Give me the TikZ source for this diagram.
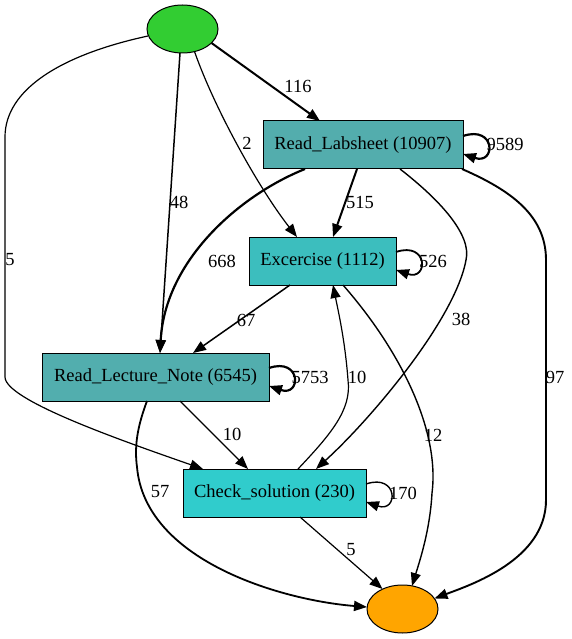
\documentclass[tikz,border=0pt]{standalone}
\usepackage{fontspec}
\setmainfont{Liberation Serif}
\usetikzlibrary{arrows.meta,calc,shapes.geometric}
\definecolor{cstart}{HTML}{32CD32}
\definecolor{cend}{HTML}{FFA500}
\definecolor{cls}{HTML}{53ADAD}
\definecolor{cln}{HTML}{52AEAE}
\definecolor{cex}{HTML}{3CBEBE}
\definecolor{ccs}{HTML}{30CCCC}
\tikzset{
  oval/.style={ellipse,draw=black,line width=1pt,minimum width=71pt,minimum height=48pt,inner sep=0pt},
  actbox/.style={rectangle,draw=black,line width=1pt,minimum height=48pt,inner sep=0pt,font=\fontsize{18.5}{20}\selectfont},
  lbl/.style={inner sep=0pt,font=\fontsize{18.5}{20}\selectfont},
  edge/.style={draw=black,-{Triangle[length=13pt,width=10pt]}},
}
\begin{document}
\begin{tikzpicture}[x=1pt,y=-1pt]
\useasboundingbox (0,0) rectangle (571,639);
% nodes
\node[oval,fill=cstart] (st) at (182.5,29) {};
\node[actbox,fill=cls,minimum width=200pt] (ls) at (363,145) {Read\_Labsheet (10907)};
\node[actbox,fill=cex,minimum width=147pt] (ex) at (322.5,261) {Excercise (1112)};
\node[actbox,fill=cln,minimum width=227pt] (ln) at (155.5,377) {Read\_Lecture\_Note (6545)};
\node[actbox,fill=ccs,minimum width=183pt] (cs) at (274.5,493) {Check\_solution (230)};
\node[oval,fill=cend] (en) at (402.5,609) {};
% edges
\draw[edge,line width=2pt] ($(st)+(29,14)$) -- ($(ls)+(-43,-24)$);
\draw[edge,line width=1.2pt] ($(st)+(12,22.5)$) .. controls (215,110) and (260,190) .. ($(ex)+(-25.5,-24)$);
\draw[edge,line width=1.5pt] ($(st)+(-2.5,24)$) -- ($(ln)+(4.5,-24)$);
\draw[edge,line width=1.2pt] ($(st)+(-34.5,7)$) .. controls (60,55) and (5,90) .. (5,137) -- (5,377) .. controls (5,400) and (120,440) .. ($(cs)+(-71.5,-24)$);
\draw[edge,line width=2.2pt] ($(ls)+(100,-9)$) .. controls ($(ls)+(133,-20)$) and ($(ls)+(133,20)$) .. ($(ls)+(100,9)$);
\draw[edge,line width=2pt] ($(ls)+(-6,24)$) -- ($(ex)+(10.5,-24)$);
\draw[edge,line width=2.2pt] ($(ls)+(-58,24)$) .. controls (240,195) and (165,260) .. ($(ln)+(4.5,-24)$);
\draw[edge,line width=1.4pt] ($(ls)+(37,24)$) .. controls (440,200) and (472,235) .. (466,260) .. controls (455,320) and (370,420) .. ($(cs)+(41.5,-24)$);
\draw[edge,line width=1.9pt] ($(ls)+(99,24)$) .. controls (510,190) and (546,215) .. (546,260) -- (546,500) .. controls (546,560) and (470,585) .. ($(en)+(32,-10.5)$);
\draw[edge,line width=1.8pt] ($(ex)+(73.5,-9)$) .. controls ($(ex)+(106,-20)$) and ($(ex)+(106,20)$) .. ($(ex)+(73.5,9)$);
\draw[edge,line width=1.5pt] ($(ex)+(-32.5,24)$) -- ($(ln)+(37.5,-24)$);
\draw[edge,line width=1.4pt] ($(ex)+(20.5,24)$) .. controls (400,350) and (440,430) .. (432,493) .. controls (430,530) and (420,560) .. ($(en)+(9.5,-23)$);
\draw[edge,line width=2.2pt] ($(ln)+(113.5,-9)$) .. controls ($(ln)+(146,-20)$) and ($(ln)+(146,20)$) .. ($(ln)+(113.5,9)$);
\draw[edge,line width=1.2pt] ($(ln)+(24.5,24)$) -- ($(cs)+(-26.5,-24)$);
\draw[edge,line width=1.8pt] ($(ln)+(-8.5,24)$) .. controls (138,425) and (134,445) .. (137,467) .. controls (145,560) and (280,600) .. ($(en)+(-35.5,-2)$);
\draw[edge,line width=1.2pt] ($(cs)+(23.5,-24)$) .. controls (330,435) and (352,410) .. (348,380) .. controls (345,340) and (338,310) .. ($(ex)+(10.5,24)$);
\draw[edge,line width=1.4pt] ($(cs)+(91.5,-9)$) .. controls ($(cs)+(124,-20)$) and ($(cs)+(124,20)$) .. ($(cs)+(91.5,9)$);
\draw[edge,line width=1.2pt] ($(cs)+(25.5,24)$) -- ($(en)+(-20,-20)$);
% labels
\node[lbl] (l116) at (298,86) {116};
\node[lbl] (l2) at (247,143) {2};
\node[lbl] (l48) at (179,202) {48};
\node[lbl] (l5a) at (10,260) {5};
\node[lbl] (l9589) at (505,144) {9589};
\node[lbl] (l515) at (360,202) {515};
\node[lbl] (l668) at (222,261) {668};
\node[lbl] (l526) at (433,261) {526};
\node[lbl] (l38) at (461,319) {38};
\node[lbl] (l97) at (555,377) {97};
\node[lbl] (l67) at (246,320) {67};
\node[lbl] (l12) at (433,435) {12};
\node[lbl] (l5753) at (310,377) {5753};
\node[lbl] (l10a) at (232,434) {10};
\node[lbl] (l10b) at (357,377) {10};
\node[lbl] (l57) at (160,492) {57};
\node[lbl] (l170) at (403,493) {170};
\node[lbl] (l5b) at (351,550) {5};
\end{tikzpicture}
\end{document}
